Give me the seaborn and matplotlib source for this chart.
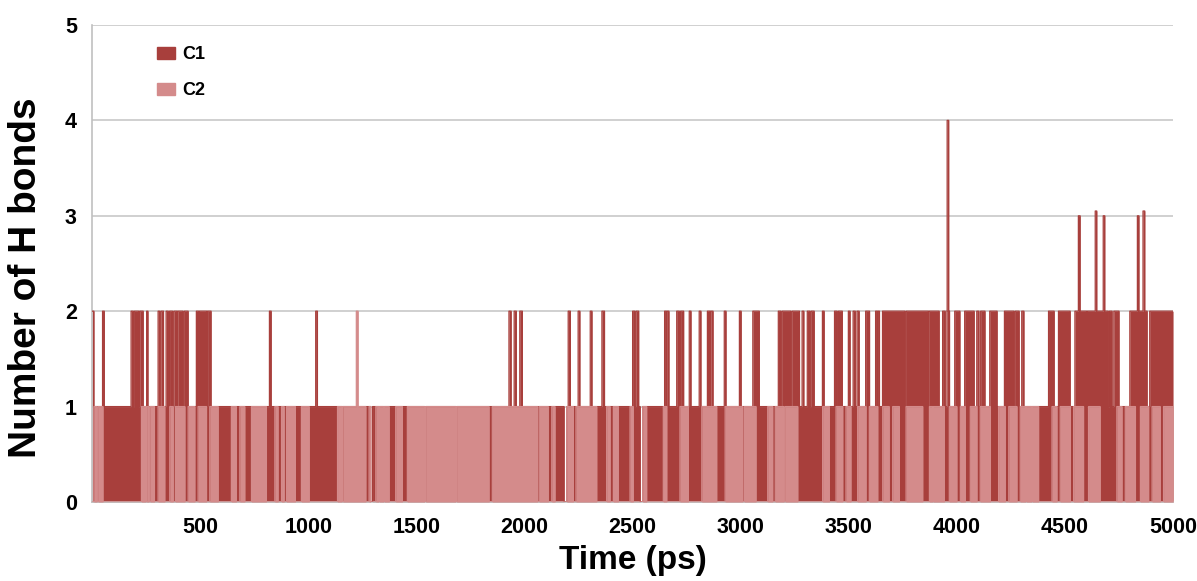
import numpy as np
import pandas as pd
import matplotlib
matplotlib.use('Agg')
import matplotlib.pyplot as plt
import matplotlib.patches as mpatches
import seaborn as sns

# Data (time in ps)
# intervals where C1 sits at 2 H bonds (C1 is 1 elsewhere)
c1_two = [(0, 8), (48, 56), (180, 190), (195, 215), (220, 236), (252, 258), (305, 312),
          (318, 330), (342, 352), (358, 372), (378, 392), (396, 420), (426, 444),
          (482, 492), (496, 530), (534, 550), (820, 828), (1034, 1042),
          (1928, 1938), (1952, 1962), (1978, 1990), (2202, 2212), (2248, 2256),
          (2304, 2312), (2358, 2370), (2500, 2510), (2516, 2528), (2648, 2656),
          (2660, 2668), (2704, 2716), (2722, 2736), (2762, 2770), (2808, 2816),
          (2846, 2858), (2862, 2872), (2924, 2932), (2994, 3002), (3056, 3086),
          (3174, 3186), (3192, 3232), (3238, 3272), (3284, 3292), (3308, 3320),
          (3326, 3340), (3378, 3386), (3434, 3446), (3452, 3470), (3498, 3506),
          (3520, 3530), (3538, 3548), (3578, 3596), (3624, 3632), (3636, 3642),
          (3656, 3760), (3766, 3868), (3872, 3918), (3934, 3946), (3954, 3966),
          (3990, 4014), (4036, 4080), (4092, 4102), (4110, 4130), (4152, 4186),
          (4220, 4264), (4270, 4288), (4300, 4310), (4424, 4450), (4470, 4524),
          (4546, 4600), (4604, 4640), (4646, 4700), (4706, 4718), (4726, 4750),
          (4800, 4880), (4892, 5001)]
# taller C1 peaks (start, end, value)
c1_peaks = [(3955, 3962, 4), (4562, 4570, 3), (4640, 4647, 3.05),
            (4677, 4684, 3), (4835, 4842, 3), (4861, 4869, 3.05)]
# intervals where C2 has 1 H bond (0 elsewhere)
c2_on = [(8, 22), (28, 50), (228, 248), (252, 262), (268, 288), (305, 336), (359, 375),
         (385, 429), (444, 475), (490, 529), (544, 583), (644, 667), (683, 706),
         (737, 806), (845, 860), (876, 888), (899, 940), (968, 1004),
         (1135, 1155), (1160, 1266), (1281, 1288), (1312, 1325), (1329, 1348),
         (1352, 1374), (1404, 1435), (1458, 1538), (1543, 1682), (1686, 1836),
         (1851, 2060), (2068, 2110), (2126, 2141), (2196, 2226), (2238, 2334),
         (2380, 2396), (2411, 2434), (2488, 2503), (2547, 2565), (2642, 2658),
         (2719, 2758), (2820, 2889), (2928, 3009), (3017, 3071), (3125, 3148),
         (3160, 3200), (3206, 3264), (3379, 3410), (3441, 3472), (3487, 3510),
         (3541, 3580), (3595, 3634), (3657, 3687), (3703, 3734), (3765, 3842),
         (3873, 3888), (3891, 3942), (3965, 4000), (4016, 4039), (4062, 4093),
         (4108, 4155), (4193, 4224), (4240, 4278), (4293, 4318), (4322, 4345),
         (4349, 4378), (4440, 4463), (4478, 4525), (4540, 4586), (4609, 4663),
         (4740, 4764), (4779, 4826), (4849, 4887), (4903, 4941), (4956, 5001)]
c2_peaks = [(1222, 1230, 2)]
# short stretches where neither has a bond
both_off = [(1288, 1297), (1538, 1543), (1682, 1686), (2183, 2196), (2535, 2547)]

dark = '#a83f3c'
light = '#d48b8b'

t = np.arange(0, 5001)
c1 = np.ones(t.size)
for a, b in c1_two:
    c1[(t >= a) & (t < b)] = 2
for a, b, v in c1_peaks:
    c1[(t >= a) & (t < b)] = v
for a, b in both_off:
    c1[(t >= a) & (t < b)] = 0
c2 = np.zeros(t.size)
for a, b in c2_on:
    c2[(t >= a) & (t < b)] = 1
for a, b, v in c2_peaks:
    c2[(t >= a) & (t < b)] = v

df = pd.DataFrame({'Time': t, 'C1': c1, 'C2': c2})

sns.set_style('white')
plt.rcParams['font.family'] = ['Liberation Sans', 'DejaVu Sans']
plt.rcParams['font.weight'] = 'bold'
plt.rcParams['text.color'] = 'black'
plt.rcParams['axes.labelcolor'] = 'black'

fig = plt.figure(figsize=(11.97, 5.81), dpi=100)
ax = fig.add_axes([0.077, 0.136, 0.903, 0.821])

ax.fill_between(df['Time'], df['C1'], step='post', color=dark, lw=0, zorder=2)
sns.lineplot(data=df, x='Time', y='C1', drawstyle='steps-post', color=dark,
             lw=0.9, ax=ax, zorder=3)
ax.fill_between(df['Time'], df['C2'], step='post', color=light, lw=0, zorder=4)
sns.lineplot(data=df, x='Time', y='C2', drawstyle='steps-post', color=light,
             lw=0.9, ax=ax, zorder=5)

ax.set_xlim(0, 5000)
ax.set_ylim(0, 5)
ax.set_xticks(range(500, 5001, 500))
ax.set_yticks(range(0, 6))
ax.yaxis.grid(True, color='#c8c8c8', lw=1.2)
ax.set_axisbelow(True)
for s in ['top', 'right']:
    ax.spines[s].set_visible(False)
for s in ['left', 'bottom']:
    ax.spines[s].set_color('#c0c0c0')
    ax.spines[s].set_linewidth(1.2)
ax.tick_params(axis='both', length=5, width=1.2, color='#c0c0c0',
               labelcolor='black', labelsize=15.5, pad=6)
for lbl in ax.get_xticklabels() + ax.get_yticklabels():
    lbl.set_fontweight('bold')
ax.set_xlabel('Time (ps)', fontsize=24, fontweight='bold', labelpad=5)
ax.set_ylabel('Number of H bonds', fontsize=28, fontweight='bold')
ax.yaxis.set_label_coords(-0.045, 0.47)

handles = [mpatches.Patch(color=dark, label='C1'), mpatches.Patch(color=light, label='C2')]
ax.legend(handles=handles, loc='upper left', bbox_to_anchor=(0.06, 0.955),
          frameon=False, prop={'weight': 'bold', 'size': 13},
          handlelength=1.0, handleheight=0.7, handletextpad=0.4,
          labelspacing=1.05, borderpad=0, borderaxespad=0)

fig.savefig('out.png', dpi=100)
